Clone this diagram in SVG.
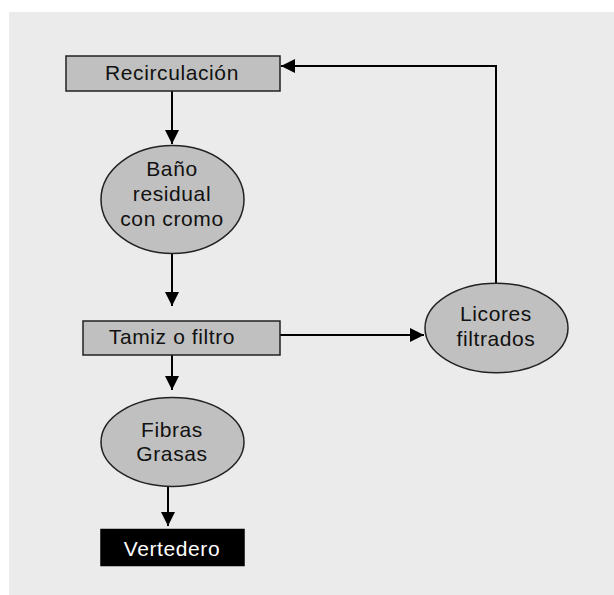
<svg xmlns="http://www.w3.org/2000/svg" width="614" height="595" viewBox="0 0 614 595">
  <style>
    .box { fill: #c0c0c0; stroke: #222; stroke-width: 1.5; }
    .oval { fill: #c0c0c0; stroke: #222; stroke-width: 1.5; }
    .dark { fill: #000; stroke: #000; stroke-width: 1.5; }
    .lbl { font-family: "Liberation Sans", Arial, sans-serif; font-size: 21px; letter-spacing: 0.6px; fill: #111; text-anchor: middle; }
    .lbl.inv { fill: #fff; }
    .wire { fill: none; stroke: #000; stroke-width: 2; }
  </style>
  <defs>
    <marker id="head" viewBox="0 0 14 14" refX="14" refY="7" markerWidth="14" markerHeight="14" markerUnits="userSpaceOnUse" orient="auto">
      <path d="M0,0 L14,7 L0,14 Z" fill="#000"/>
    </marker>
  </defs>

  <!-- panel -->
  <rect x="9" y="12" width="605" height="583" fill="#ebebeb"/>

  <!-- connectors -->
  <g id="connectors">
    <line class="wire" x1="172" y1="91" x2="172" y2="144" marker-end="url(#head)"/>
    <line class="wire" x1="172" y1="253" x2="172" y2="306" marker-end="url(#head)"/>
    <line class="wire" x1="172" y1="355" x2="172" y2="390" marker-end="url(#head)"/>
    <line class="wire" x1="168" y1="487" x2="168" y2="526" marker-end="url(#head)"/>
    <line class="wire" x1="280" y1="335" x2="424" y2="335" marker-end="url(#head)"/>
    <polyline class="wire" points="496,283 496,66 281,66" marker-end="url(#head)"/>
  </g>

  <g id="recirculacion">
    <rect class="box" x="66" y="56" width="214" height="35"/>
    <text class="lbl" x="172" y="80">Recirculación</text>
  </g>

  <g id="bano-residual">
    <ellipse class="oval" cx="172.5" cy="199.5" rx="71.5" ry="54"/>
    <text class="lbl" x="172" y="176">Baño</text>
    <text class="lbl" x="172" y="201">residual</text>
    <text class="lbl" x="172" y="226">con cromo</text>
  </g>

  <g id="tamiz">
    <rect class="box" x="83" y="321" width="197" height="34"/>
    <text class="lbl" x="172" y="344">Tamiz o filtro</text>
  </g>

  <g id="fibras">
    <ellipse class="oval" cx="172.5" cy="442" rx="71.5" ry="44.5"/>
    <text class="lbl" x="172" y="437">Fibras</text>
    <text class="lbl" x="172" y="461">Grasas</text>
  </g>

  <g id="vertedero">
    <rect class="dark" x="101" y="529.5" width="143" height="36"/>
    <text class="lbl inv" x="172" y="556">Vertedero</text>
  </g>

  <g id="licores">
    <ellipse class="oval" cx="496.5" cy="328" rx="71.5" ry="44.7"/>
    <text class="lbl" x="496" y="321">Licores</text>
    <text class="lbl" x="496" y="346">filtrados</text>
  </g>
</svg>
